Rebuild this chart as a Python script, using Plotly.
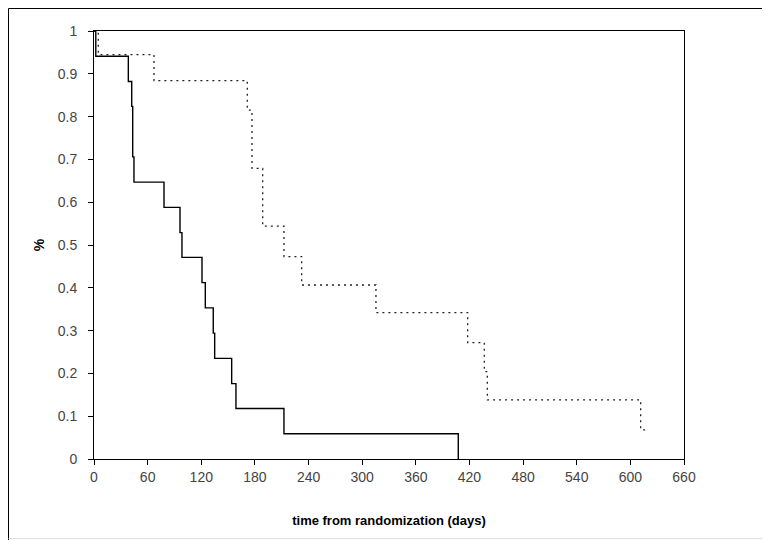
import plotly.graph_objects as go

# Group A (solid line): Kaplan-Meier step curve
solid_days = [0, 2, 38.4, 42.2, 43.3, 44.7, 78.3, 96.2, 98.4, 120.8, 124.5, 133.4, 135.0, 154.0, 158.8, 212.5, 407.5]
solid_surv = [1.0, 0.941, 0.882, 0.824, 0.706, 0.647, 0.588, 0.529, 0.471, 0.412, 0.353, 0.294, 0.235, 0.176, 0.118, 0.059, 0.0]

# Group B (dotted line)
dotted_days = [0, 4.8, 67.1, 171.5, 176.7, 188.7, 212.5, 232.3, 315.4, 418.0, 436.6, 440.0, 611.5, 619.0]
dotted_surv = [1.0, 0.945, 0.884, 0.815, 0.679, 0.544, 0.473, 0.4065, 0.342, 0.272, 0.204, 0.138, 0.068, 0.068]

x_ticks = list(range(0, 661, 60))
y_ticks = [0, 0.1, 0.2, 0.3, 0.4, 0.5, 0.6, 0.7, 0.8, 0.9, 1]
y_tick_labels = ["0", "0.1", "0.2", "0.3", "0.4", "0.5", "0.6", "0.7", "0.8", "0.9", "1"]

fig = go.Figure()
fig.add_trace(go.Scatter(x=dotted_days, y=dotted_surv, mode="lines", line_shape="hv",
                         line=dict(color="#222222", width=1.3, dash="2px,4px"), showlegend=False))
fig.add_trace(go.Scatter(x=solid_days, y=solid_surv, mode="lines", line_shape="hv",
                         line=dict(color="black", width=1.4), showlegend=False))

tick_font = dict(family="Liberation Sans, Arial, sans-serif", size=14, color="#444444")
title_font = dict(family="Liberation Sans, Arial, sans-serif", size=13, color="black")

fig.update_layout(
    width=762, height=532,
    margin=dict(l=86, r=86, t=23, b=81),
    paper_bgcolor="white", plot_bgcolor="white",
    xaxis=dict(range=[0, 660], tickvals=x_ticks, ticks="outside", ticklen=5, tickcolor="black",
               showgrid=False, zeroline=False, showline=True, linecolor="black", linewidth=1,
               mirror=True, tickfont=tick_font,
               title=dict(text="<b>time from randomization (days)</b>", font=title_font, standoff=32)),
    yaxis=dict(range=[0, 1], tickvals=y_ticks, ticktext=y_tick_labels, ticks="outside", ticklen=5,
               tickcolor="black", showgrid=False, zeroline=False, showline=True, linecolor="black",
               linewidth=1, mirror=True, tickfont=tick_font, ticklabelstandoff=8,
               title=dict(text="<b>%</b>", font=dict(family="Liberation Sans, Arial, sans-serif", size=14, color="black"), standoff=9)),
    shapes=[
        dict(type="line", xref="paper", yref="paper", x0=-0.1449, x1=1.2, y0=1.0526, y1=1.0526,
             line=dict(color="black", width=1)),
        dict(type="line", xref="paper", yref="paper", x0=-0.1449, x1=-0.1449, y0=1.0526, y1=-0.19,
             line=dict(color="black", width=1)),
        dict(type="line", xref="paper", yref="paper", x0=-0.1449, x1=1.2, y0=-0.186, y1=-0.186,
             line=dict(color="#dddddd", width=1)),
    ],
)

fig.write_html("out.html")
